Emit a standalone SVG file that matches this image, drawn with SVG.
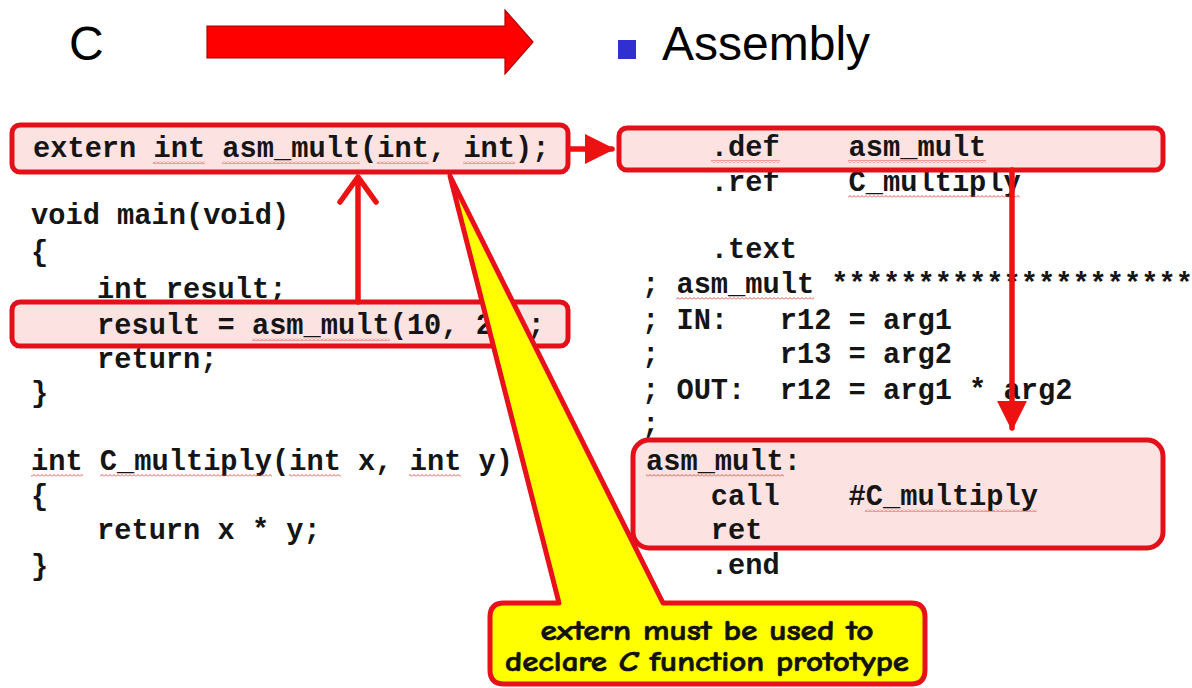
<svg xmlns="http://www.w3.org/2000/svg" width="1192" height="688" viewBox="0 0 1192 688">
  <style>
    .code { font-family: "Liberation Mono", "Courier New", monospace; font-weight: bold; font-size: 28.7px; fill: #151515; white-space: pre; }
    .title { font-family: "Liberation Sans", Arial, sans-serif; font-size: 48px; fill: #000; }
    .hl { fill: #fde2e2; stroke: #e3101a; stroke-width: 5; }
    .link { fill: none; stroke: #ee1111; stroke-width: 5.5; stroke-linecap: round; stroke-linejoin: round; }
    .sq { fill: url(#squiggle); }
    .note { font-family: "Comic Sans MS", "Comic Neue", "DejaVu Sans", sans-serif; font-weight: bold; font-size: 29px; fill: #111; stroke: #111; stroke-width: 0.7; }
  </style>
  <defs>
    <pattern id="squiggle" width="4" height="3" patternUnits="userSpaceOnUse">
      <path d="M0 2.5 L2 0.5 L4 2.5" fill="none" stroke="#d9443a" stroke-width="0.9"/>
    </pattern>
    <marker id="tri" viewBox="0 0 10 10" refX="9" refY="5" markerWidth="5.5" markerHeight="5.5" markerUnits="strokeWidth" orient="auto">
      <path d="M0 0 L10 5 L0 10 Z" fill="#ee1111"/>
    </marker>
  </defs>

  <rect width="1192" height="688" fill="#ffffff"/>

  <!-- heading: C => Assembly -->
  <g id="header">
    <text class="title" x="69" y="60">C</text>
    <path d="M207 26 L505 26 L505 10 L533 42 L505 74 L505 58 L207 58 Z" fill="#ff0000" stroke="#b00000" stroke-width="1.2"/>
    <rect x="618" y="40" width="18" height="19" fill="#3030d0"/>
    <text class="title" x="662" y="60">Assembly</text>
  </g>

  <!-- C source -->
  <g id="c-source">
    <text class="code" xml:space="preserve" x="31" y="224">void main(void)</text>
    <text class="code" xml:space="preserve" x="31" y="261">{</text>
    <text class="code" xml:space="preserve" x="97" y="298">int result;</text>
    <text class="code" xml:space="preserve" x="97" y="368">return;</text>
    <text class="code" xml:space="preserve" x="31" y="402">}</text>
    <text class="code" xml:space="preserve" x="31" y="470">int C_multiply(int x, int y)</text>
    <text class="code" xml:space="preserve" x="31" y="505">{</text>
    <text class="code" xml:space="preserve" x="97" y="539">return x * y;</text>
    <text class="code" xml:space="preserve" x="31" y="575">}</text>
    <rect class="sq" x="31" y="474" width="52" height="3"/>
    <rect class="sq" x="100" y="474" width="172" height="3"/>
    <rect class="sq" x="289" y="474" width="52" height="3"/>
    <rect class="sq" x="409" y="474" width="52" height="3"/>
  </g>

  <!-- assembly source -->
  <g id="asm-source">
    <text class="code" xml:space="preserve" x="642" y="191">    .ref    C_multiply</text>
    <text class="code" xml:space="preserve" x="642" y="258">    .text</text>
    <text class="code" xml:space="preserve" x="642" y="293">; asm_mult *********************</text>
    <text class="code" xml:space="preserve" x="642" y="329">; IN:   r12 = arg1</text>
    <text class="code" xml:space="preserve" x="642" y="363">;       r13 = arg2</text>
    <text class="code" xml:space="preserve" x="642" y="399">; OUT:  r12 = arg1 * arg2</text>
    <text class="code" xml:space="preserve" x="642" y="433">;</text>
    <text class="code" xml:space="preserve" x="642" y="574">    .end</text>
    <rect class="sq" x="848" y="195" width="172" height="3"/>
    <rect class="sq" x="676" y="297" width="138" height="3"/>
  </g>

  <!-- prototype declaration -->
  <g id="extern-decl">
    <rect class="hl" x="12" y="125" width="556" height="47" rx="8"/>
    <text class="code" xml:space="preserve" x="33" y="157">extern int asm_mult(int, int);</text>
    <rect class="sq" x="153" y="161" width="52" height="3"/>
    <rect class="sq" x="222" y="161" width="138" height="3"/>
    <rect class="sq" x="377" y="161" width="52" height="3"/>
    <rect class="sq" x="463" y="161" width="52" height="3"/>
  </g>

  <!-- call site in main -->
  <g id="call-site">
    <rect class="hl" x="12" y="302" width="556" height="44" rx="8"/>
    <text class="code" xml:space="preserve" x="97" y="334">result = asm_mult(10, 20);</text>
    <rect class="sq" x="252" y="338" width="138" height="3"/>
  </g>

  <!-- .def directive -->
  <g id="asm-def">
    <rect class="hl" x="619" y="128" width="544" height="42" rx="8"/>
    <text class="code" xml:space="preserve" x="642" y="156">    .def    asm_mult</text>
    <rect class="sq" x="711" y="160" width="69" height="3"/>
    <rect class="sq" x="848" y="160" width="138" height="3"/>
  </g>

  <!-- asm_mult routine -->
  <g id="asm-body">
    <rect class="hl" x="633" y="440" width="530" height="108" rx="16"/>
    <text class="code" xml:space="preserve" x="646" y="470">asm_mult:</text>
    <text class="code" xml:space="preserve" x="642" y="505">    call    #C_multiply</text>
    <text class="code" xml:space="preserve" x="642" y="539">    ret</text>
    <rect class="sq" x="646" y="474" width="138" height="3"/>
    <rect class="sq" x="865" y="509" width="172" height="3"/>
  </g>

  <!-- connectors -->
  <g id="connectors">
    <line class="link" x1="570" y1="149" x2="612" y2="149" marker-end="url(#tri)"/>
    <path class="link" d="M358 302 L358 178 M340 202 L358 177 L376 202"/>
    <line class="link" x1="1012" y1="170" x2="1012" y2="428" marker-end="url(#tri)"/>
  </g>

  <!-- callout -->
  <g id="callout">
    <path d="M504 603 L559 603 L450 176 L663 603 L911 603 Q925 603 925 617 L925 670 Q925 684 911 684 L504 684 Q490 684 490 670 L490 617 Q490 603 504 603 Z" fill="#ffff00" stroke="#e8101a" stroke-width="5" stroke-linejoin="round"/>
    <text class="note" x="707" y="640" text-anchor="middle" textLength="333" lengthAdjust="spacingAndGlyphs">extern must be used to</text>
    <text class="note" x="707" y="671" text-anchor="middle" textLength="404" lengthAdjust="spacingAndGlyphs">declare <tspan font-style="italic">C</tspan> function prototype</text>
  </g>
</svg>
